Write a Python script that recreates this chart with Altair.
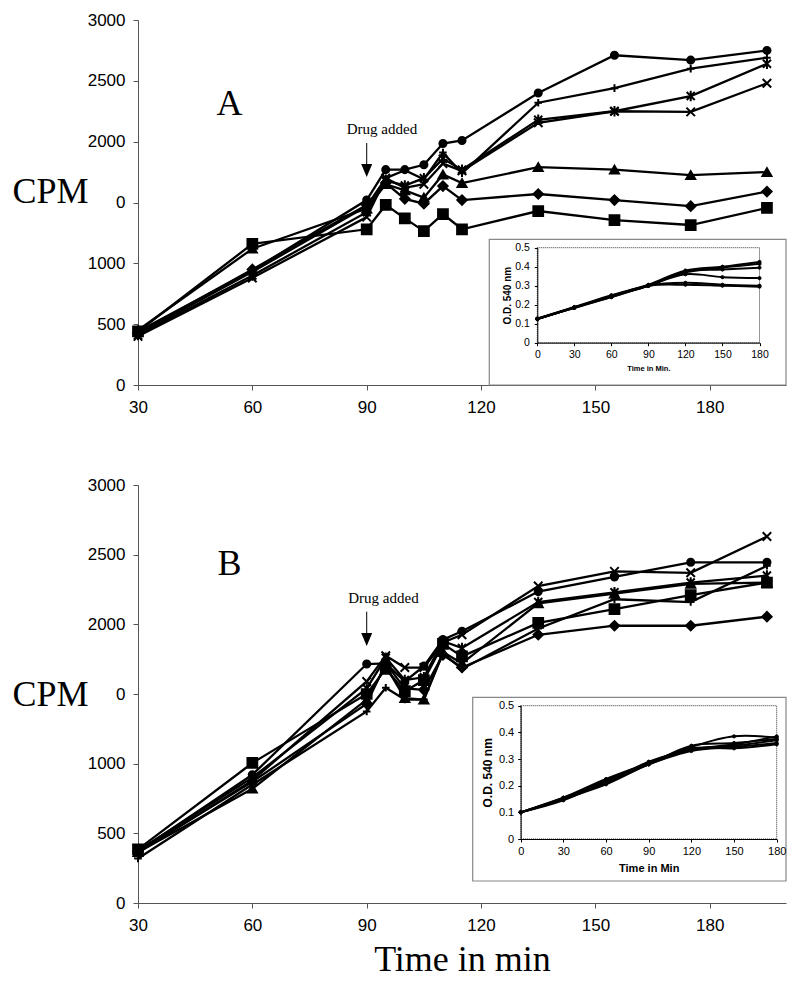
import altair as alt
import pandas as pd

SERIF = "Liberation Serif"
SANS = "Liberation Sans"

# ---------------- data ----------------
TIMES = [30, 60, 90, 95, 100, 105, 110, 115, 135, 155, 175, 195]
SERIES = ["circle", "plus", "asterisk", "x", "triangle", "diamond", "square"]

A_CIRCLE = [440, 940, 1520, 1770, 1770, 1810, 1985, 2010, 2400, 2710, 2670, 2750]
A_PLUS = [420, 930, 1470, 1700, 1765, 1690, 1910, 1740, 2320, 2440, 2600, 2690]
A_ASTERISK = [410, 900, 1420, 1680, 1640, 1700, 1860, 1770, 2180, 2250, 2375, 2640]
A_X = [400, 880, 1380, 1700, 1620, 1650, 1820, 1760, 2155, 2250, 2245, 2480]
A_TRIANGLE = [450, 1120, 1450, 1650, 1600, 1540, 1730, 1660, 1790, 1770, 1725, 1750]
A_DIAMOND = [430, 950, 1480, 1660, 1530, 1490, 1635, 1520, 1570, 1520, 1470, 1590]
A_SQUARE = [440, 1160, 1280, 1480, 1370, 1265, 1405, 1280, 1430, 1355, 1315, 1455]

B_CIRCLE = [370, 920, 1715, 1720, 1590, 1700, 1890, 1950, 2235, 2340, 2445, 2445]
B_PLUS = [320, 850, 1375, 1545, 1460, 1460, 1790, 1680, 1970, 2180, 2160, 2420]
B_ASTERISK = [375, 900, 1540, 1760, 1600, 1620, 1880, 1830, 2160, 2230, 2300, 2350]
B_X = [360, 880, 1590, 1775, 1690, 1690, 1870, 1925, 2275, 2380, 2370, 2630]
B_TRIANGLE = [365, 820, 1460, 1700, 1470, 1460, 1800, 1720, 2150, 2220, 2290, 2300]
B_DIAMOND = [370, 870, 1430, 1720, 1540, 1530, 1780, 1690, 1925, 1990, 1990, 2055]
B_SQUARE = [385, 1005, 1500, 1680, 1520, 1600, 1860, 1770, 2010, 2110, 2210, 2300]

INSET_T = [0, 30, 60, 90, 120, 150, 180]
IA_1 = [0.128, 0.188, 0.250, 0.305, 0.380, 0.400, 0.425]
IA_2 = [0.125, 0.185, 0.245, 0.300, 0.370, 0.395, 0.415]
IA_3 = [0.125, 0.185, 0.245, 0.300, 0.375, 0.385, 0.395]
IA_4 = [0.125, 0.185, 0.240, 0.300, 0.360, 0.345, 0.340]
IA_5 = [0.125, 0.183, 0.240, 0.300, 0.315, 0.305, 0.300]
IA_6 = [0.125, 0.185, 0.245, 0.300, 0.305, 0.300, 0.295]

IB_1 = [0.100, 0.155, 0.225, 0.285, 0.345, 0.385, 0.380]
IB_2 = [0.100, 0.150, 0.210, 0.280, 0.350, 0.360, 0.375]
IB_3 = [0.100, 0.150, 0.205, 0.280, 0.335, 0.350, 0.370]
IB_4 = [0.100, 0.145, 0.215, 0.280, 0.330, 0.345, 0.360]
IB_5 = [0.100, 0.150, 0.220, 0.285, 0.340, 0.340, 0.355]
IB_6 = [0.100, 0.155, 0.210, 0.290, 0.335, 0.355, 0.385]

# annotations
LETTER_A = {"time": [54], "cpm": [2310], "label": ["A"]}
LETTER_B = {"time": [54], "cpm": [2430], "label": ["B"]}
DRUG_A = {"time": [94], "cpm": [2104], "label": ["Drug added"]}
DRUG_B = {"time": [94.4], "cpm": [2189], "label": ["Drug added"]}
ARROW_A = {"time": [90], "cpm": [1989], "cpm2": [1816], "head": [1763]}
ARROW_B = {"time": [90], "cpm": [2091], "cpm2": [1923], "head": [1891]}

SHAPES = ["circle", "M-1,0H1M0,-1V1", "M-1,-1L1,1M-1,1L1,-1M0,-1.3V1.3",
          "M-1,-1L1,1M-1,1L1,-1", "triangle-up", "diamond", "square"]
SIZES = [50, 95, 80, 75, 75, 60, 55]


def long_df(times, series_names, arrays, tname, vname):
    rows = []
    for name, arr in zip(series_names, arrays):
        for t, v in zip(times, arr):
            rows.append({tname: t, vname: v, "series": name})
    return pd.DataFrame(rows)


dfA = long_df(TIMES, SERIES, [A_CIRCLE, A_PLUS, A_ASTERISK, A_X, A_TRIANGLE, A_DIAMOND, A_SQUARE], "time", "cpm")
dfB = long_df(TIMES, SERIES, [B_CIRCLE, B_PLUS, B_ASTERISK, B_X, B_TRIANGLE, B_DIAMOND, B_SQUARE], "time", "cpm")
INSET_NAMES = ["s1", "s2", "s3", "s4", "s5", "s6"]
dfIA = long_df(INSET_T, INSET_NAMES, [IA_1, IA_2, IA_3, IA_4, IA_5, IA_6], "t", "od")
dfIB = long_df(INSET_T, INSET_NAMES, [IB_1, IB_2, IB_3, IB_4, IB_5, IB_6], "t", "od")

W = 648


def main_layer(df, height, letter, drug, arrow, cpm_title_y, x_title):
    xs = alt.Scale(domain=[30, 200], nice=False, zero=False)
    ys = alt.Scale(domain=[0, 3000], nice=False)
    xax = alt.Axis(values=[30, 60, 90, 120, 150, 180], grid=False, tickSize=5,
                   tickColor="#555", domainColor="#555", labelFont=SANS, labelFontSize=17,
                   labelColor="black", labelPadding=9, labelFlush=False,
                   titleFont=SERIF, titleFontSize=36, titleFontWeight="normal",
                   titleColor="black", titlePadding=9)
    yax = alt.Axis(values=[0, 500, 1000, 1500, 2000, 2500, 3000], format="d",
                   labelExpr="datum.value == 1500 ? '0' : datum.label",
                   grid=False, tickSize=5, tickColor="#555", domainColor="#555",
                   labelFont=SANS, labelFontSize=17, labelColor="black", labelPadding=8,
                   title="CPM", titleAngle=0, titleAlign="left", titleBaseline="middle",
                   titleX=-126, titleY=cpm_title_y, titleFont=SERIF, titleFontSize=36,
                   titleFontWeight="normal", titleColor="black")
    X = alt.X("time:Q", scale=xs, axis=xax, title=x_title)
    Y = alt.Y("cpm:Q", scale=ys, axis=yax, title="CPM")

    lines = alt.Chart(df).mark_line(color="black", strokeWidth=2.3).encode(
        x=X, y=Y, detail="series:N", order="time:Q")
    pts = alt.Chart(df).mark_point(filled=True, fill="black", stroke="black",
                                   strokeWidth=2, opacity=1).encode(
        x=X, y=Y,
        shape=alt.Shape("series:N", scale=alt.Scale(domain=SERIES, range=SHAPES), legend=None),
        size=alt.Size("series:N", scale=alt.Scale(domain=SERIES, range=SIZES), legend=None))
    let = alt.Chart(pd.DataFrame(letter)).mark_text(
        font=SERIF, fontSize=36, color="black", baseline="middle", align="center").encode(
        x=X, y=Y, text="label:N")
    drg = alt.Chart(pd.DataFrame(drug)).mark_text(
        font=SERIF, fontSize=15, color="black", baseline="middle", align="center").encode(
        x=X, y=Y, text="label:N")
    adf = pd.DataFrame(arrow)
    rule = alt.Chart(adf).mark_rule(color="black", strokeWidth=1).encode(
        x=X, y=Y, y2="cpm2:Q")
    head = alt.Chart(adf).mark_point(shape="M-1,-1.2L1,-1.2L0,1.2Z", filled=True,
                                     fill="black", size=121, opacity=1).encode(
        x=X, y=alt.Y("head:Q", scale=ys, axis=yax, title="CPM"))
    return alt.layer(lines, pts, let, drg, rule, head)


def inset_layer(df, xr, yr, xoff, yoff, box, lab_size, xttl_size, yttl_size, xlab_pad,
                ylab_pad, xt_pad, yt_pad, x_title, stroke_w):
    xs = alt.Scale(domain=[0, 180], range=xr, nice=False, zero=False)
    ys = alt.Scale(domain=[0, 0.5], range=yr, nice=False, zero=False)
    xax = alt.Axis(orient="bottom", offset=xoff, values=INSET_T, grid=False, tickSize=3,
                   tickColor="black", domainColor="black", labelFont=SANS,
                   labelFontSize=lab_size, labelColor="black", labelPadding=xlab_pad,
                   labelFlush=False, titleFont=SANS, titleFontSize=xttl_size,
                   titleFontWeight="bold", titleColor="black", titlePadding=xt_pad,
                   zindex=2)
    yax = alt.Axis(orient="left", offset=yoff, values=[0, 0.1, 0.2, 0.3, 0.4, 0.5],
                   format="~g", grid=False, tickSize=3, tickColor="black",
                   domainColor="black", labelFont=SANS, labelFontSize=lab_size,
                   labelColor="black", labelPadding=ylab_pad, labelFlush=False,
                   titleFont=SANS, titleFontSize=yttl_size, titleFontWeight="bold",
                   titleColor="black", titlePadding=yt_pad, zindex=2)
    X = alt.X("t:Q", scale=xs, axis=xax, title=x_title)
    Y = alt.Y("od:Q", scale=ys, axis=yax, title="O.D.  540  nm")

    boxc = alt.Chart(pd.DataFrame({"k": [0]})).mark_rect(
        fill="white", stroke="#888", strokeWidth=1.2).encode(
        x=alt.value(box[0]), x2=alt.value(box[1]), y=alt.value(box[2]), y2=alt.value(box[3]))
    frame_df = pd.DataFrame({"t": [0], "t2": [180], "od": [0], "od2": [0.5]})
    frame = alt.Chart(frame_df).mark_rect(fill="white", stroke="#333", strokeWidth=1,
                                          strokeDash=[1, 1]).encode(
        x=X, x2="t2:Q", y=Y, y2="od2:Q")
    lines = alt.Chart(df).mark_line(color="black", strokeWidth=stroke_w,
                                    interpolate="catmull-rom").encode(
        x=X, y=Y, detail="series:N", order="t:Q")
    pts = alt.Chart(df).mark_point(filled=True, fill="black", stroke="black",
                                   strokeWidth=1, size=10, opacity=1).encode(
        x=X, y=Y)
    return alt.layer(boxc, frame, lines, pts)


hA = 365
hB = 418
panelA = alt.layer(
    main_layer(dfA, hA, LETTER_A, DRUG_A, ARROW_A, 171, None),
    inset_layer(dfIA, [399.3, 621.5], [322.7, 227.7], 322.7 - hA, -399.3,
                [351.3, 648, 219.3, 365], 10.5, 7.5, 10, 4, 5, 4, 2, "Time  in  Min.", 2),
).resolve_scale(x="independent", y="independent").resolve_axis(
    x="independent", y="independent").properties(width=W, height=hA)

panelB = alt.layer(
    main_layer(dfB, hB, LETTER_B, DRUG_B, ARROW_B, 209, "Time in min"),
    inset_layer(dfIB, [382.7, 638.7], [354, 220.7], 354 - hB, -382.7,
                [334.7, 648, 212.3, 396], 11, 11, 12, 3, 4, 6, 4, "Time  in  Min", 2),
).resolve_scale(x="independent", y="independent").resolve_axis(
    x="independent", y="independent").properties(width=W, height=hB)

chart = alt.vconcat(panelA, panelB, spacing=61).properties(
    padding={"left": 4, "top": 3, "right": 5, "bottom": 0},
    background="white",
).configure_view(stroke=None)

chart.save("out.html", embed_options={"renderer": "svg", "actions": False})
